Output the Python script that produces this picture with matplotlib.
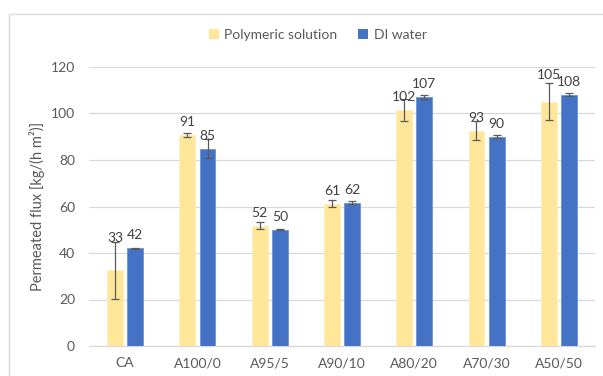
import matplotlib
matplotlib.use("Agg")
import matplotlib.pyplot as plt
import numpy as np
from matplotlib.patches import Rectangle

plt.rcParams['font.family'] = ['Lato', 'DejaVu Sans']

categories = ["CA", "A100/0", "A95/5", "A90/10", "A80/20", "A70/30", "A50/50"]
polymeric = [32.6, 90.8, 51.8, 61.2, 101.6, 92.6, 105.0]
polymeric_err = [12.3, 1.0, 1.5, 1.4, 4.8, 4.2, 8.0]
di_water = [42.0, 84.8, 50.1, 61.6, 107.2, 90.1, 108.1]
di_water_err = [0.3, 4.1, 0.2, 0.7, 0.8, 0.5, 0.6]
series_names = ["Polymeric solution", "DI water"]
y_ticks = [0, 20, 40, 60, 80, 100, 120]

# extra lift (points) for labels that sit above long error bars
poly_label_lift = [14, 0, 0, 0, 0, 0, 10]
water_label_lift = [0, 0, 0, 0, 0, 0, 0]

yellow = "#FFE699"
blue = "#4472C4"
text_col = "#595959"
label_col = "#404040"
grid_col = "#D9D9D9"

fig = plt.figure(figsize=(6.03, 3.76), dpi=100)
ax = fig.add_axes([89 / 603, 30 / 376, 506 / 603, 279 / 376])

# outer chart frame
fig.patches.append(Rectangle((9 / 603, -0.1), 1.2, (376 - 14) / 376 + 0.1,
                             transform=fig.transFigure, fill=False,
                             edgecolor="#D9D9D9", linewidth=1.0))

x = np.arange(len(categories))
w = 0.22
off = 0.14
err_kw = dict(ecolor="#5a5a5a", elinewidth=0.9, capsize=2.6, capthick=0.9)

b1 = ax.bar(x - off, polymeric, w, color=yellow, edgecolor="#FFEFB8", linewidth=0.6,
            yerr=polymeric_err, error_kw=err_kw, label=series_names[0], zorder=3)
b2 = ax.bar(x + off, di_water, w, color=blue, edgecolor="#6E93D6", linewidth=0.6,
            yerr=di_water_err, error_kw=err_kw, label=series_names[1], zorder=3)

for xi, v, lift in zip(x - off, polymeric, poly_label_lift):
    ax.annotate(f"{v:.0f}", (xi, v), xytext=(0, 5 + lift), textcoords="offset points",
                ha="center", va="bottom", fontsize=10, color=label_col, zorder=5)
for xi, v, lift in zip(x + off, di_water, water_label_lift):
    ax.annotate(f"{v:.0f}", (xi, v), xytext=(0, 5 + lift), textcoords="offset points",
                ha="center", va="bottom", fontsize=10, color=label_col, zorder=5)

ax.set_xlim(-0.5, len(categories) - 0.5)
ax.set_ylim(0, 120)
ax.set_yticks(y_ticks)
ax.set_xticks(x)
ax.set_xticklabels(categories)
ax.tick_params(axis="both", length=0, labelsize=10, colors=text_col)
ax.tick_params(axis="y", pad=10)
ax.tick_params(axis="x", pad=8)
ax.grid(axis="y", color=grid_col, linewidth=0.9, zorder=0)
ax.set_axisbelow(True)
for s in ["top", "right", "left"]:
    ax.spines[s].set_visible(False)
ax.spines["bottom"].set_color(grid_col)
ax.spines["bottom"].set_linewidth(0.9)

ax.set_ylabel("Permeated flux [kg/(h m²)]", fontsize=10.5, color=text_col, labelpad=4)

leg = fig.legend(handles=[b1, b2], labels=series_names, loc="center",
                 bbox_to_anchor=(0.527, 1 - 35 / 376), ncol=2, frameon=False,
                 fontsize=10, handlelength=0.7, handleheight=0.7, handletextpad=0.4,
                 columnspacing=1.5, labelcolor=text_col)
for h in leg.legend_handles:
    h.set_linewidth(0)

fig.savefig("out.png", dpi=100)
